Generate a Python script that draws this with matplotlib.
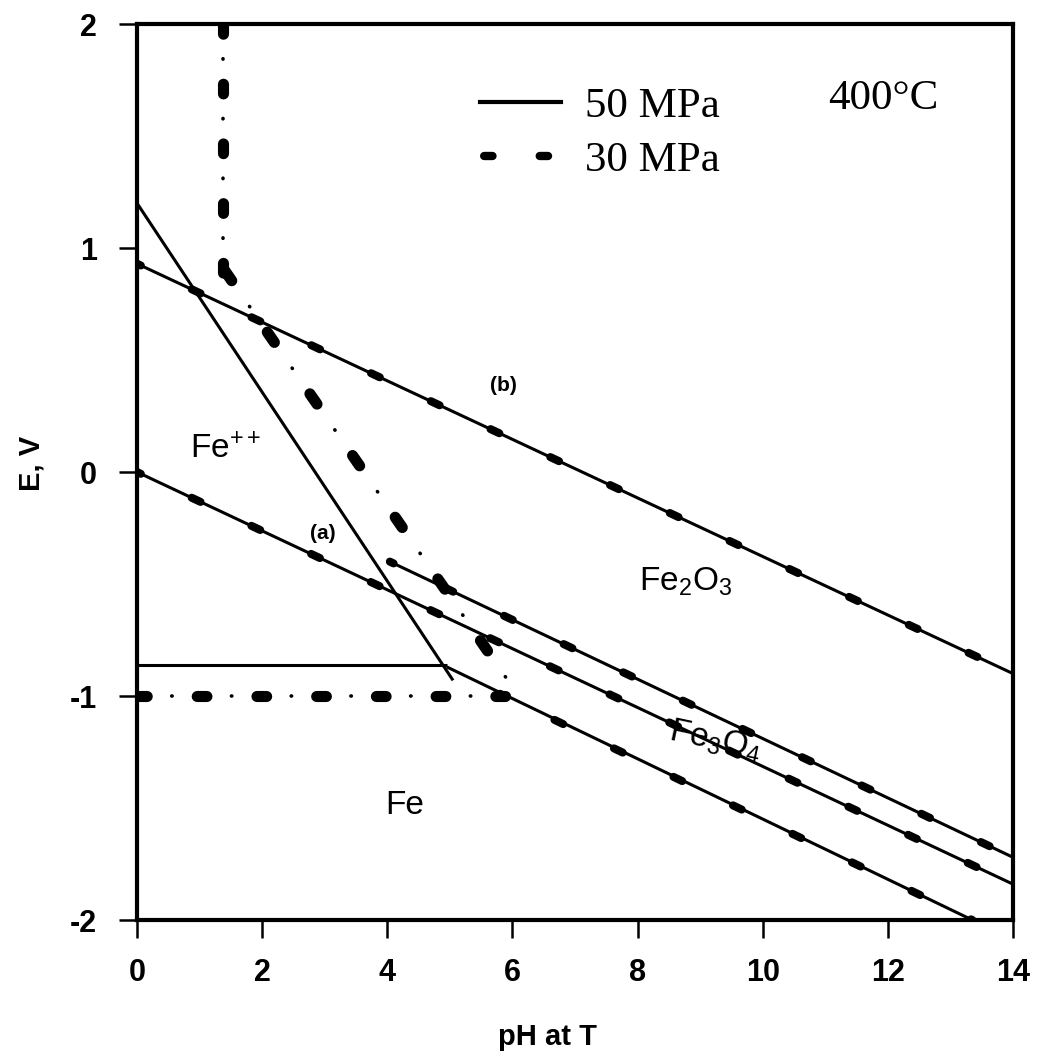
import matplotlib
matplotlib.use("Agg")
import matplotlib.pyplot as plt
from matplotlib.lines import Line2D

plt.rcParams['font.family'] = ['Liberation Sans', 'DejaVu Sans']
plt.rcParams['lines.scale_dashes'] = False
plt.rcParams['mathtext.fontset'] = 'custom'
plt.rcParams['mathtext.rm'] = 'Liberation Sans'
plt.rcParams['mathtext.it'] = 'Liberation Sans:italic'
plt.rcParams['mathtext.bf'] = 'Liberation Sans:bold'
plt.rcParams['mathtext.default'] = 'regular'

# ---- data (pH, E in V) ----
# 50 MPa boundaries (solid)
line_b_x = [0.0, 14.0]
line_b_y = [0.93, -0.90]
line_a_x = [0.0, 14.0]
line_a_y = [0.0, -1.84]
line_upper_x = [4.04, 14.0]
line_upper_y = [-0.40, -1.72]
line_lower_x = [4.95, 13.35]
line_lower_y = [-0.87, -2.0]
line_steep_x = [0.0, 5.05]
line_steep_y = [1.2, -0.93]
line_horiz_x = [0.0, 4.95]
line_horiz_y = [-0.86, -0.86]

# 30 MPa boundaries (dashed)
d_b_x, d_b_y = line_b_x, line_b_y
d_a_x, d_a_y = line_a_x, line_a_y
d_upper_x, d_upper_y = line_upper_x, line_upper_y
d_lower_x = [5.8, 13.35]
d_lower_y = [-0.99, -2.0]
d_vert_x = [1.37, 1.37]
d_vert_y = [2.0, 0.88]
d_steep_x = [1.4, 6.1]
d_steep_y = [0.9, -1.0]
d_horiz_x = [0.0, 6.1]
d_horiz_y = [-1.0, -1.0]

xticks = [0, 2, 4, 6, 8, 10, 12, 14]
yticks = [-2, -1, 0, 1, 2]

fig = plt.figure(figsize=(10.39, 10.63), dpi=100)
ax = fig.add_axes([0.1319, 0.1345, 0.8431, 0.8429])
ax.set_xlim(0, 14)
ax.set_ylim(-2, 2)

solid_kw = dict(color='black', lw=2.2, solid_capstyle='butt')
for xs, ys in [(line_b_x, line_b_y), (line_a_x, line_a_y),
               (line_upper_x, line_upper_y), (line_lower_x, line_lower_y),
               (line_steep_x, line_steep_y), (line_horiz_x, line_horiz_y)]:
    ax.plot(xs, ys, **solid_kw)

# overlay dashes on coincident 30 MPa lines
ov_kw = dict(color='black', lw=5.8, dash_capstyle='round',
             linestyle=(4, (7, 40.5)))
for xs, ys in [(d_b_x, d_b_y), (d_a_x, d_a_y), (d_upper_x, d_upper_y),
               (d_lower_x, d_lower_y)]:
    ax.plot(xs, ys, **ov_kw)


def dashdot(xs, ys, dash, period, lw=8):
    gap = period - dash
    ax.plot(xs, ys, color='black', lw=lw, dash_capstyle='round',
            linestyle=(0, (dash, gap)))
    ax.plot(xs, ys, color='black', lw=2.6, dash_capstyle='round',
            linestyle=(-(dash + gap / 2.0), (0.3, period - 0.3)))


dashdot(d_vert_x, d_vert_y, 7, 43)
dashdot(d_steep_x, d_steep_y, 9, 54)
dashdot(d_horiz_x, d_horiz_y, 7, 43)

# spines / ticks
for s in ax.spines.values():
    s.set_linewidth(3)
ax.set_xticks(xticks)
ax.set_yticks(yticks)
ax.set_xticklabels([str(v) for v in xticks])
ax.set_yticklabels([str(v) for v in yticks])
ax.tick_params(axis='both', direction='out', length=13, width=1.8,
               labelsize=22, top=False, right=False)
ax.tick_params(axis='x', pad=14)
ax.tick_params(axis='y', pad=16)
for lab in ax.get_xticklabels() + ax.get_yticklabels():
    lab.set_fontweight('bold')

ax.set_xlabel('pH at T', fontsize=21, fontweight='bold')
ax.xaxis.set_label_coords(0.468, -0.115)
ax.set_ylabel('E, V', fontsize=21, fontweight='bold')
ax.yaxis.set_label_coords(-0.105, 0.51)

# region labels
ax.text(0.85, 0.10, 'Fe$^{++}$', fontsize=24, va='center', ha='left')
ax.text(8.03, -0.49, 'Fe$_2$O$_3$', fontsize=24, va='center', ha='left')
ax.text(8.45, -1.2, 'Fe$_3$O$_4$', fontsize=24, va='center', ha='left',
        rotation=-12)
ax.text(3.96, -1.49, 'Fe', fontsize=24, va='center', ha='left')
ax.text(2.97, -0.275, '(a)', fontsize=15, fontweight='bold', ha='center',
        va='center')
ax.text(5.85, 0.387, '(b)', fontsize=15, fontweight='bold', ha='center',
        va='center')

serif = ['Liberation Serif', 'DejaVu Serif']
ax.text(0.789, 0.917, '400\u00b0C', transform=ax.transAxes, fontsize=31,
        family=serif, va='center', ha='left')

handles = [Line2D([], [], color='black', lw=3),
           Line2D([], [], color='black', lw=6, dash_capstyle='round',
                  linestyle=(-3, (6, 34)))]
leg = ax.legend(handles, ['50 MPa', '30 MPa'], loc='upper left',
                bbox_to_anchor=(0.392, 0.93), frameon=False,
                prop={'family': serif, 'size': 31}, handlelength=1.87,
                handletextpad=0.55, borderpad=0, borderaxespad=0,
                labelspacing=0.35)

fig.savefig('out.png', dpi=100)
